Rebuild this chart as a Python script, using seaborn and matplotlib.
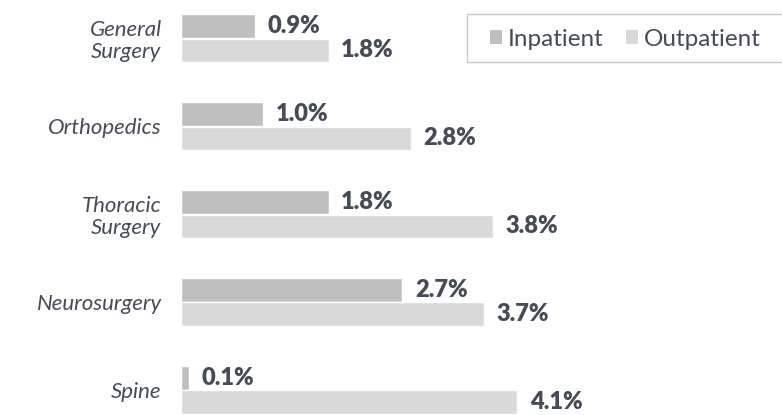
import matplotlib

matplotlib.use('Agg')
import matplotlib.pyplot as plt
import pandas as pd
import seaborn as sns
from matplotlib.patches import Patch, Rectangle

# values (percent)
categories = ['General\nSurgery', 'Orthopedics', 'Thoracic\nSurgery', 'Neurosurgery', 'Spine']
inpatient = [0.9, 1.0, 1.8, 2.7, 0.1]
outpatient = [1.8, 2.8, 3.8, 3.7, 4.1]
series_names = ['Inpatient', 'Outpatient']
series_colors = ['#bfbfbf', '#d9d9d9']
text_color = '#464c57'


def build_frame():
    rows = []
    for cat, inp, outp in zip(categories, inpatient, outpatient):
        rows.append({'category': cat, 'setting': 'Inpatient', 'rate': inp})
        rows.append({'category': cat, 'setting': 'Outpatient', 'rate': outp})
    return pd.DataFrame(rows)


def main():
    sns.set_style('white')
    plt.rcParams['font.family'] = ['Lato', 'DejaVu Sans']

    df = build_frame()
    W, H = 782, 415
    fig = plt.figure(figsize=(W / 100, H / 100), dpi=100)
    ax = fig.add_axes([181 / W, 0, 1 - 181 / W, 1])

    sns.barplot(
        data=df,
        y='category',
        x='rate',
        hue='setting',
        hue_order=series_names,
        palette=series_colors,
        orient='h',
        width=0.555,
        gap=0.04,
        saturation=1,
        legend=False,
        ax=ax,
    )

    for container in ax.containers:
        ax.bar_label(
            container,
            labels=[f'{v:.1f}%' for v in container.datavalues],
            padding=9,
            fontsize=17,
            fontweight='heavy',
            color=text_color,
        )

    ax.set_xlim(0, (W - 181) / 82)
    ax.set_ylim(4.284, -0.432)
    ax.set_xlabel('')
    ax.set_ylabel('')
    ax.set_xticks([])
    ax.tick_params(axis='y', length=0, pad=14)
    for label in ax.get_yticklabels():
        label.set_fontstyle('italic')
        label.set_fontsize(16)
        label.set_color(text_color)
        label.set_linespacing(1.1)
    sns.despine(ax=ax, left=True, bottom=True)

    # legend box: frame drawn separately so it runs off the right edge like the original
    fig.patches.append(Rectangle(
        (467 / W, 1 - 62 / H), (W + 10 - 467) / W, 48 / H,
        transform=fig.transFigure, facecolor='white', edgecolor='#c8c8c8', linewidth=1.0, zorder=0,
    ))
    handles = [Patch(facecolor=c, edgecolor='none') for c in series_colors]
    leg = fig.legend(
        handles,
        series_names,
        loc='center left',
        bbox_to_anchor=(490 / W, 1 - 39 / H),
        ncol=2,
        frameon=False,
        fontsize=17.5,
        handlelength=0.5,
        handleheight=0.5,
        handletextpad=0.25,
        columnspacing=0.9,
        borderpad=0,
        borderaxespad=0,
    )
    for t in leg.get_texts():
        t.set_color(text_color)

    fig.savefig('out.png', dpi=100)
    plt.close(fig)


if __name__ == '__main__':
    main()
